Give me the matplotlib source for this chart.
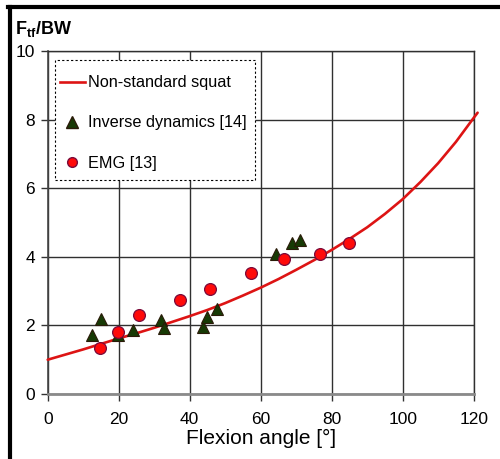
import matplotlib

matplotlib.use("Agg")
import matplotlib.pyplot as plt
from matplotlib.lines import Line2D
from matplotlib.patches import Rectangle

plt.rcParams.update({
    "font.family": ["Liberation Sans", "DejaVu Sans"],
    "mathtext.fontset": "custom",
    "mathtext.rm": "Liberation Sans",
    "mathtext.bf": "Liberation Sans:bold",
})

# Non-standard squat model curve
curve_x = [0, 5, 10, 15, 20, 25, 30, 35, 40, 45, 50, 55, 60, 65, 70, 75,
           80, 85, 90, 95, 100, 105, 110, 115, 120, 121.1]
curve_y = [1.0, 1.15, 1.3, 1.46, 1.62, 1.77, 1.93, 2.1, 2.27, 2.45, 2.65,
           2.87, 3.1, 3.35, 3.62, 3.9, 4.2, 4.52, 4.86, 5.25, 5.68, 6.18,
           6.73, 7.35, 8.05, 8.2]

# Inverse dynamics [14]
inv_x = [12.4, 14.9, 19.9, 24.0, 31.8, 32.7, 43.8, 44.9, 47.8, 64.4, 68.8, 71.0]
inv_y = [1.72, 2.2, 1.72, 1.87, 2.16, 1.92, 1.94, 2.24, 2.47, 4.08, 4.39, 4.49]

# EMG [13]
emg_x = [14.7, 19.7, 25.8, 37.4, 45.7, 57.2, 66.5, 76.6, 84.8]
emg_y = [1.35, 1.82, 2.3, 2.74, 3.05, 3.54, 3.94, 4.08, 4.41]

xticks = [0, 20, 40, 60, 80, 100, 120]
yticks = [0, 2, 4, 6, 8, 10]

C_LINE = "#dd1414"
C_TRI = "#173a05"
C_TRI_EDGE = "#2a1a08"
C_DOT = "#ff0a0a"
C_DOT_EDGE = "#7a0a3a"

fig = plt.figure(figsize=(5.0, 4.59), dpi=100)
ax = fig.add_axes([0.0954, 0.1416, 0.8520, 0.7474])

ax.plot(curve_x, curve_y, color=C_LINE, lw=1.9, zorder=3, clip_on=False,
        solid_capstyle="round")
ax.plot(inv_x, inv_y, ls="none", marker="^", ms=9, color=C_TRI,
        mec=C_TRI_EDGE, mew=0.8, zorder=4)
ax.plot(emg_x, emg_y, ls="none", marker="o", ms=8.5, color=C_DOT,
        mec=C_DOT_EDGE, mew=0.9, zorder=5)

ax.set_xlim(0, 120)
ax.set_ylim(0, 10)
ax.set_xticks(xticks)
ax.set_yticks(yticks)
ax.tick_params(axis="both", labelsize=12.5, length=5, width=1,
               color="#333333")
ax.tick_params(axis="x", pad=8)
ax.tick_params(axis="y", pad=4)
ax.grid(True, color="#303030", lw=1.0)
ax.set_axisbelow(True)
for side in ["top", "right"]:
    ax.spines[side].set_color("#303030")
    ax.spines[side].set_linewidth(1.0)
ax.spines["left"].set_color("#444444")
ax.spines["left"].set_linewidth(1.2)
ax.spines["bottom"].set_color("#8a8a8a")
ax.spines["bottom"].set_linewidth(2.0)

ax.set_xlabel("Flexion angle [°]", fontsize=15, labelpad=1)

fig.text(0.030, 0.925, r"$\mathbf{F}_{\mathbf{tf}}\mathbf{/BW}$",
         fontsize=13, ha="left", va="baseline")

# legend: dashed box drawn by hand, entries without frame
ax.add_patch(Rectangle((0.0171, 0.624), 0.4695, 0.350, transform=ax.transAxes,
                       facecolor="white", edgecolor="black", lw=0.8,
                       ls=(0, (2, 2)), zorder=6))
handles = [
    Line2D([], [], color=C_LINE, lw=1.9),
    Line2D([], [], ls="none", marker="^", ms=8, color=C_TRI, mec=C_TRI_EDGE),
    Line2D([], [], ls="none", marker="o", ms=7, color=C_DOT, mec=C_DOT_EDGE),
]
labels = ["Non-standard squat", "Inverse dynamics [14]", "EMG [13]"]
leg = ax.legend(handles, labels, loc="upper left",
                bbox_to_anchor=(0.029, 0.929), borderaxespad=0,
                borderpad=0, fontsize=11.7, labelspacing=1.55,
                handlelength=1.53, handletextpad=0.2, frameon=False)
leg.set_zorder(7)

# black frame of the original figure (left and top)
fig.add_artist(Line2D([0.020, 0.020], [0.0, 0.9847], color="black", lw=3.0,
                      transform=fig.transFigure))
fig.add_artist(Line2D([0.016, 1.0], [0.9847, 0.9847], color="black", lw=3.0,
                      transform=fig.transFigure))

fig.savefig("out.png", dpi=100)
